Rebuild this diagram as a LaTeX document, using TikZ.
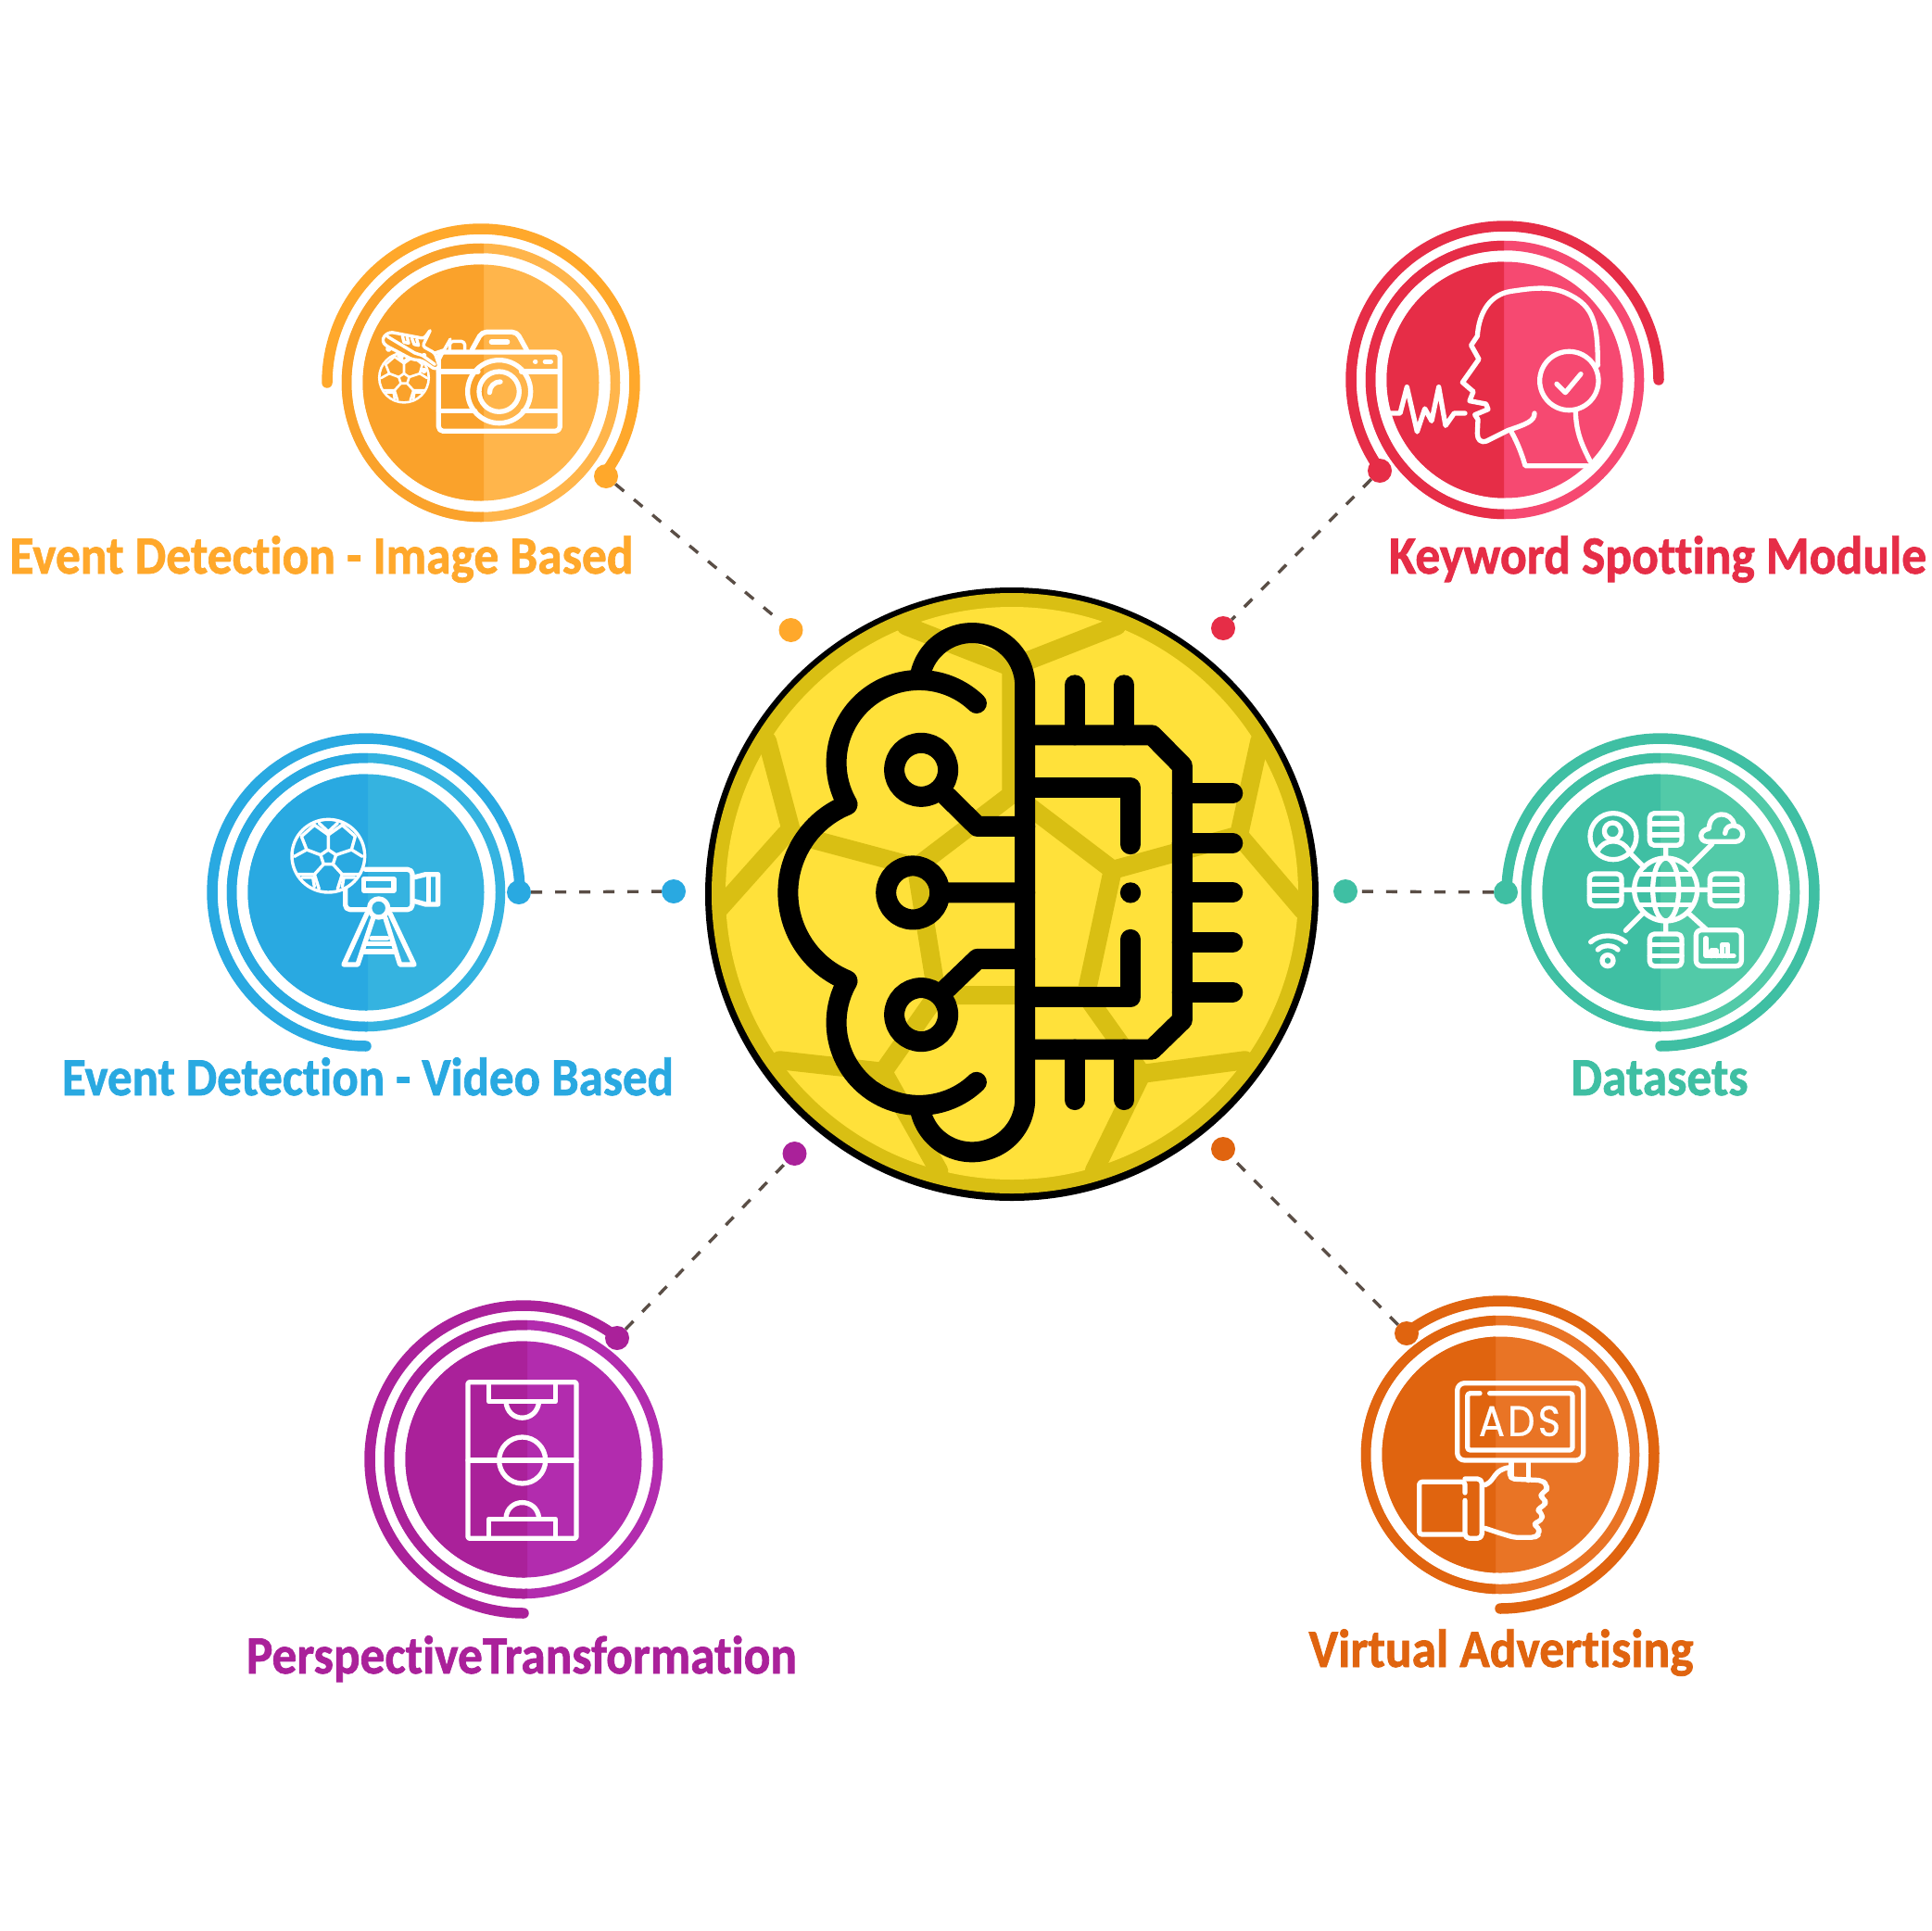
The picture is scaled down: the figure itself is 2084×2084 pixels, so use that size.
\documentclass[tikz,border=0pt]{standalone}
\usepackage{graphicx}
\usepackage{fontspec}
\setmainfont{Carlito}[Ligatures=NoCommon,BoldFeatures={FakeBold=1.3}]
\newfontfamily\adsfont{Poppins}[LetterSpace=8,FakeBold=0.7]
\definecolor{cfill}{HTML}{FFE13A}
\definecolor{cdark}{HTML}{D9BF13}
\definecolor{cdash}{HTML}{5A4E46}
\definecolor{oD}{HTML}{FAA22B}\definecolor{oL}{HTML}{FFB54B}\definecolor{oS}{HTML}{FFA82B}
\definecolor{rD}{HTML}{E62D47}\definecolor{rL}{HTML}{F64971}
\definecolor{bD}{HTML}{29A9E1}\definecolor{bL}{HTML}{35B3E0}
\definecolor{gD}{HTML}{3FBFA3}\definecolor{gL}{HTML}{52CAA8}
\definecolor{aD}{HTML}{E0640F}\definecolor{aL}{HTML}{E97425}
\definecolor{pD}{HTML}{AA219A}\definecolor{pL}{HTML}{B22CAE}
\tikzset{
  dotnode/.style={circle,inner sep=0pt,minimum size=26pt,fill=#1},
  conn/.style={cdash,line width=3.4pt,dash pattern=on 12pt off 14pt},
  balline/.style={cdark,line width=20pt,line cap=round,line join=round},
  brain/.style={black,line width=22pt,line cap=round,line join=round},
  icon/.style={white,line width=5.3pt,line join=round,line cap=round},
  thinicon/.style={white,line width=3.4pt,line join=round,line cap=round},
  ballstroke/.style={white,line width=3.4pt,line join=round,line cap=round},
  lab/.style={anchor=base,inner sep=0pt,text=#1},
}
\newcommand\arcA[5]{plot[domain=#4:#5,samples=90,variable=\t] ({#1+#3*cos(\t)},{#2+#3*sin(\t)})}
\newcommand\arcB[5]{-- plot[domain=#4:#5,samples=90,variable=\t] ({#1+#3*cos(\t)},{#2+#3*sin(\t)})}
% badge: cx cy divx dark light spiralcolour from to
\newcommand\badge[8]{%
  \fill[#5] (#1,#2) circle[radius=127.5];
  \draw[#5,line width=10.5pt] (#1,#2) circle[radius=145];
  \begin{scope}
    \clip (#3-200,#2-200) rectangle (#3,#2+200);
    \fill[#4] (#1,#2) circle[radius=127.5];
    \draw[#4,line width=10.5pt] (#1,#2) circle[radius=145];
  \end{scope}
  \draw[#6,line width=11.5pt,line cap=round] \arcA{#1}{#2}{166}{#7}{#8};
}
\newcommand\lbl[2]{\resizebox{#1pt}{\height}{\fontsize{58}{60}\selectfont\bfseries #2}}
\newcommand\ballicon{%
  \draw[ballstroke] (0,0) circle[radius=118];
  \draw[ballstroke] (0,-20)--(25,-3)--(15,27)--(-15,27)--(-25,-3)--cycle;
  \draw[ballstroke] (0,-20)--(0,-68) (25,-3)--(75,-20) (15,27)--(45,60) (-15,27)--(-45,60) (-25,-3)--(-70,-20);
  \draw[ballstroke] (0,-68)--(-45,-100) (0,-68)--(45,-100) (75,-20)--(87,-63) (75,-20)--(110,2)
     (45,60)--(100,60) (45,60)--(30,107) (-45,60)--(-100,60) (-45,60)--(-30,107) (-70,-20)--(-110,2) (-70,-20)--(-87,-63);
  \draw[ballstroke] (-30,-106)--(0,-78)--(30,-106) (-87,-63)--(-45,-100) (87,-63)--(45,-100)
     (-85,70)--(-50,70)--(-45,100) (85,70)--(50,70)--(45,100);
}
\newcommand\serverbox[2]{%
  \draw[icon,rounded corners=5pt] (#1-52,#2-52) rectangle (#1+52,#2+52);
  \draw[icon] (#1-52,#2-18)--(#1+52,#2-18) (#1-52,#2+18)--(#1+52,#2+18);
}
\begin{document}
\begin{tikzpicture}[x=1pt,y=-1pt]
\useasboundingbox (-1,-1) rectangle (2083,2083);
\fill[white] (-1,-1) rectangle (2083,2083);

% ---------- central ball ----------
\fill[black] (1091,964) circle[radius=331];
\fill[cdark] (1091,963) circle[radius=324];
\fill[cfill] (1091,963) circle[radius=309];
\begin{scope}[shift={(740,620)},scale=0.44643]
  \clip (786,768) circle[radius=725];
  \draw[balline] (530,122)--(785,222)--(1040,122);
  \draw[balline] (785,222)--(785,530)--(555,705)--(255,625)--(195,400);
  \draw[balline] (240,625)--(75,810);
  \draw[balline] (555,705)--(605,1015)--(475,1200)--(225,1172);
  \draw[balline] (605,1015)--(965,1015)--(1100,1205)--(1350,1172);
  \draw[balline] (475,1200)--(610,1440);
  \draw[balline] (1100,1205)--(985,1440);
  \draw[balline] (965,1015)--(1030,712)--(830,560);
  \draw[balline] (1030,712)--(1335,628)--(1385,400);
  \draw[balline] (1335,628)--(1490,810);
  % ---------- brain and chip ----------
  \draw[brain] \arcA{690}{267}{128}{195}{360} \arcB{690}{1266}{128}{0}{165};
  \draw[brain] \arcA{562}{453}{200}{314}{150};
  \draw[brain] \arcA{562}{1081}{200}{210}{46};
  \draw[brain] \arcA{473.6}{767}{228.6}{248}{112};
  \draw[brain] (818,386)--(1125,386)--(1198,460)--(1198,1075)--(1125,1146)--(818,1146);
  \draw[brain] (938,265)--(938,386) (1058,265)--(1058,386) (938,1268)--(938,1146) (1058,1268)--(1058,1146);
  \draw[brain] (1198,527)--(1320,527) (1198,647)--(1320,647) (1198,767)--(1320,767) (1198,887)--(1320,887) (1198,1007)--(1320,1007);
  \draw[brain] (818,513)--(1073,513)--(1073,650) (818,1020)--(1073,1020)--(1073,880);
  \fill[black] (1073,767) circle[radius=25];
  \draw[brain] (567,470) circle[radius=65] (547,767) circle[radius=65] (567,1062) circle[radius=65];
  \draw[brain] (625,530)--(703,607)--(818,607) (612,767)--(818,767) (625,1002)--(703,927)--(818,927);
\end{scope}

% ---------- badges ----------
\badge{518}{412}{521}{oD}{oL}{oS}{180}{397}
\badge{1623}{409}{1622}{rD}{rL}{rD}{144}{360}
\badge{394}{962}{396}{bD}{bL}{bD}{90}{360}
\badge{1791}{962}{1791}{gD}{gL}{gD}{180}{450}
\badge{1618}{1569}{1613}{aD}{aL}{aD}{232}{450}
\badge{564}{1574}{568}{pD}{pL}{pD}{90}{308}

% ---------- camera icon ----------
\begin{scope}[shift={(340,230)},scale=0.33333]
  \draw[icon,rounded corners=5pt] (397,447) rectangle (790,703);
  \draw[icon] (397,510)--(525,510) (665,510)--(790,510) (397,638)--(515,638) (670,638)--(790,638);
  \draw[icon] (593,575) circle[radius=102] (593,575) circle[radius=65];
  \draw[icon] (562,578) .. controls (562,558) and (578,543) .. (597,543);
  \draw[icon,rounded corners=5pt] (505,440)--(537,382)--(650,382)--(682,440);
  \draw[icon] (568,414)--(620,414) (742,478)--(760,478) (710,478)--(710.5,478);
  \draw[thinicon,rounded corners=4pt] (433,440)--(433,412)--(482,412)--(482,440);
  \begin{scope}[shift={(285,530)},scale=0.68,ballstroke/.style={white,line width=2.6pt,line join=round,line cap=round}]
    \ballicon
  \end{scope}
  \draw[thinicon,fill=oD,rounded corners=3pt] (372,373)--(350,403)--(240,382)--(220,395)--(215,412)--(225,425)--(310,470)--(345,475)--(385,503)--(400,495)--(385,450)--(345,428)--cycle;
  \draw[thinicon] (232,397)--(320,450)--(345,458)--(385,487);
  \draw[thinicon] (280,395)--(285,415)--(300,418)--(295,398) (310,402)--(318,422)--(332,425)--(326,405);
  \draw[thinicon] (385,450)--(415,440)--(435,405) (415,440)--(395,480);
  \draw[thinicon] (235,437) circle[radius=5] (275,462) circle[radius=5] (350,458) circle[radius=4] (350,507) circle[radius=5];
\end{scope}

% ---------- speaking head icon ----------
\begin{scope}[shift={(1440,230)},scale=0.33333]
  \draw[icon] (645,645) .. controls (645,670) and (620,680) .. (560,700) -- (490,735) .. controls (470,742) and (460,730) .. (460,710) -- (462,665) -- (452,650) -- (495,632) -- (488,615) -- (435,605) -- (447,575) -- (412,545) -- (465,470) -- (440,425) -- (460,395) .. controls (465,320) and (500,260) .. (570,250) .. controls (640,240) and (700,230) .. (760,262) .. controls (835,300) and (850,350) .. (850,490);
  \draw[icon] (757,540) circle[radius=95];
  \draw[icon] (717,550)--(745,578)--(795,518);
  \draw[icon] (778,640) .. controls (780,710) and (800,750) .. (825,800);
  \draw[icon] (570,705) .. controls (590,740) and (605,780) .. (615,815) -- (815,815);
  \draw[icon] (180,645)--(210,645)--(232,560)--(265,705)--(290,630)--(312,670)--(335,560)--(357,685)--(385,645)--(420,645);
\end{scope}

% ---------- video camera icon ----------
\begin{scope}[shift={(220,790)},scale=0.33333]
  \begin{scope}[shift={(400,398)}]
    \ballicon
  \end{scope}
  \draw[icon,rounded corners=5pt] (455,505)--(455,572)--(528,572);
  \draw[icon,rounded corners=5pt] (600,572)--(672,572)--(672,442)--(520,442);
  \draw[icon] (515,473) rectangle (612,510);
  \draw[icon] (680,467)--(715,458)--(755,458)--(755,555)--(715,555)--(680,545);
  \draw[icon] (725,462)--(725,552);
  \draw[icon] (563,567) circle[radius=30];
  \draw[icon] (525,585)--(450,750)--(495,750)--(545,600);
  \draw[icon] (600,585)--(678,750)--(632,750)--(585,600);
  \draw[icon] (540,665)--(590,665);
  \draw[icon] (518,682)--(608,682) (512,708)--(616,708);
\end{scope}

% ---------- datasets icon ----------
\begin{scope}[shift={(1620,790)},scale=0.33333]
  \draw[icon] (530,507) circle[radius=102];
  \draw[icon] (530,507) ellipse[x radius=42,y radius=102];
  \draw[icon] (428,507)--(632,507) (445,458)--(615,458) (445,557)--(615,557);
  \serverbox{530}{312}\serverbox{335}{508}\serverbox{725}{508}\serverbox{530}{703}
  \draw[icon] (530,368)--(530,405) (390,508)--(428,508) (635,508)--(670,508) (530,610)--(530,648)
     (415,390)--(460,435) (605,435)--(680,360) (455,585)--(400,640) (605,585)--(660,635);
  \draw[icon] (360,335) circle[radius=75] (358,318) circle[radius=27];
  \draw[icon] (310,382) .. controls (330,340) and (390,340) .. (410,382);
  \draw[icon] (665,352) .. controls (638,352) and (635,315) .. (670,310) .. controls (670,250) and (745,250) .. (752,300) .. controls (790,305) and (785,352) .. (755,352) -- cycle;
  \draw[icon] (722,325) .. controls (722,305) and (740,298) .. (752,300);
  \draw[icon] (342,737) circle[radius=18];
  \draw[icon] (310,702) .. controls (325,685) and (360,685) .. (375,702);
  \draw[icon] (287,677) .. controls (315,650) and (370,650) .. (400,677);
  \draw[icon,rounded corners=6pt] (628,638) rectangle (775,755);
  \draw[icon] (660,665)--(660,722)--(750,722);
  \draw[icon] (678,722)--(678,705)--(695,705)--(695,722) (712,722)--(712,685)--(730,685)--(730,722);
\end{scope}

% ---------- ads icon ----------
\begin{scope}[shift={(1460,1400)},scale=0.33333]
  \draw[icon,rounded corners=8pt] (335,275) rectangle (743,525);
  \draw[icon,rounded corners=3pt] (408,308)--(368,308)--(368,492)--(708,492)--(708,308)--(440,308);
  \node[text=white,inner sep=0pt] (adstext) at (537,398) {\resizebox{88pt}{\height}{\adsfont\fontsize{46}{48}\selectfont ADS}};
  \draw[icon] (510,530)--(510,580) (565,530)--(565,590);
  \draw[icon,rounded corners=5pt] (505,560)--(505,585)--(610,590)--(625,605)--(625,625)--(598,638)--(620,650)--(620,672)--(590,683)--(610,695)--(610,720)--(578,730)--(600,742)--(600,765)--(585,775)--(520,775)--(470,760)--(425,745);
  \draw[icon] (425,605) .. controls (460,590) and (450,555) .. (505,548);
  \draw[icon,rounded corners=5pt] (360,585)--(415,585)--(415,778)--(360,778)--(360,655);
  \draw[icon,rounded corners=3pt] (360,630)--(360,595)--(212,595)--(212,765)--(360,765);
\end{scope}

% ---------- pitch icon ----------
\begin{scope}[shift={(390,1400)},scale=0.33333]
  \draw[icon,rounded corners=2pt] (342,272) rectangle (693,778);
  \draw[icon] (342,525)--(693,525);
  \draw[icon] (518,525) circle[radius=75];
  \draw[icon] (410,272) rectangle (625,335);
  \draw[icon] (410,715) rectangle (625,778);
  \draw[icon] (465,335) .. controls (470,405) and (565,405) .. (572,335);
  \draw[icon] (465,712) .. controls (470,645) and (565,645) .. (572,712);
\end{scope}

% ---------- connectors and dots ----------
\node[dotnode=oS] (c1) at (852.5,679) {};
\node[dotnode=rD] (c2) at (1319,677) {};
\node[dotnode=bD] (c3) at (726,961) {};
\node[dotnode=gD] (c4) at (1451,961) {};
\node[dotnode=pD] (c5) at (856.5,1244) {};
\node[dotnode=aD] (c6) at (1319,1239) {};
\node[dotnode=oS] (b1) at (653,513) {};
\node[dotnode=rD] (b2) at (1488,507) {};
\node[dotnode=bD] (b3) at (559,962) {};
\node[dotnode=gD] (b4) at (1624,962) {};
\node[dotnode=pD] (b5) at (665,1443) {};
\node[dotnode=aD] (b6) at (1517,1438) {};
\draw[conn] (b1)--(c1);
\draw[conn] (b2)--(c2);
\draw[conn] (b3)--(c3);
\draw[conn] (b4)--(c4);
\draw[conn] (b5)--(c5);
\draw[conn] (b6)--(c6);

% ---------- labels ----------
\node[lab=oS] (t1) at (346,618) {\lbl{673}{Event Detection - Image Based}};
\node[lab=rD] (t2) at (1788,618) {\lbl{580}{Keyword Spotting Module}};
\node[lab=bD] (t3) at (396,1181) {\lbl{660}{Event Detection - Video Based}};
\node[lab=gD] (t4) at (1790,1181) {\lbl{191}{Datasets}};
\node[lab=pD] (t5) at (562,1805) {\lbl{594}{PerspectiveTransformation}};
\node[lab=aD] (t6) at (1619,1798) {\lbl{415}{Virtual Advertising}};
\end{tikzpicture}
\end{document}
